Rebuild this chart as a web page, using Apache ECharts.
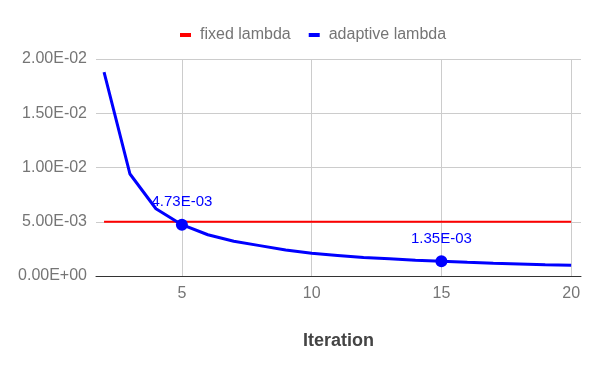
<!DOCTYPE html>
<html>
<head>
<meta charset="utf-8">
<script src="https://cdn.jsdelivr.net/npm/echarts@6/dist/echarts.min.js"></script>
<style>
  html, body { margin: 0; padding: 0; background: #fff; }
  #chart { width: 600px; height: 371px; }
</style>
</head>
<body>
<div id="chart"></div>
<script>
(function () {
  'use strict';

  var iterations = [2, 3, 4, 5, 6, 7, 8, 9, 10, 11, 12, 13, 14, 15, 16, 17, 18, 19, 20];
  var fixedLambda = [0.005, 0.005, 0.005, 0.005, 0.005, 0.005, 0.005, 0.005, 0.005, 0.005,
    0.005, 0.005, 0.005, 0.005, 0.005, 0.005, 0.005, 0.005, 0.005];
  var adaptiveLambda = [0.0188, 0.0094, 0.0062, 0.00473, 0.0038, 0.0032, 0.0028, 0.0024, 0.0021,
    0.0019, 0.0017, 0.0016, 0.00145, 0.00135, 0.00126, 0.00118, 0.00111, 0.00104, 0.00098];
  var labelledIterations = [5, 15];
  var xTicks = [5, 10, 15, 20];
  var yTicks = [0, 0.005, 0.01, 0.015, 0.02];

  var sci = function (v) {
    return Number(v).toExponential(2).toUpperCase().replace(/E([+-])(\d)$/, 'E$10$2');
  };

  var fixedData = iterations.map(function (x, i) {
    return [x, fixedLambda[i]];
  });
  var adaptiveData = iterations.map(function (x, i) {
    var item = { value: [x, adaptiveLambda[i]], symbol: 'none' };
    if (labelledIterations.indexOf(x) >= 0) {
      item.symbol = 'circle';
      item.symbolSize = 12;
      item.label = { show: true };
    }
    return item;
  });

  var myChart = echarts.init(document.getElementById('chart'));
  var option = {
    animation: false,
    textStyle: { fontFamily: 'Arial, "Liberation Sans", sans-serif' },
    legend: {
      top: 22,
      left: 175,
      icon: 'rect',
      itemWidth: 11,
      itemHeight: 4,
      itemGap: 18,
      textStyle: { color: '#757575', fontSize: 16, padding: [0, 0, 0, 4] },
      data: ['fixed lambda', 'adaptive lambda']
    },
    grid: { left: 96, right: 19, top: 59, bottom: 95 },
    xAxis: {
      type: 'value',
      min: 1.69,
      max: 20.38,
      name: 'Iteration',
      nameLocation: 'middle',
      nameGap: 56,
      nameTextStyle: { color: '#444', fontSize: 18, fontWeight: 'bold' },
      axisLine: { show: true, onZero: false, lineStyle: { color: '#333', width: 1 } },
      axisTick: { show: false, customValues: xTicks },
      axisLabel: { customValues: xTicks, color: '#757575', fontSize: 16, margin: 10 },
      splitLine: { show: true, lineStyle: { color: '#cccccc' } }
    },
    yAxis: {
      type: 'value',
      min: yTicks[0],
      max: yTicks[yTicks.length - 1],
      interval: 0.005,
      axisLine: { show: false },
      axisTick: { show: false },
      axisLabel: { color: '#757575', fontSize: 16, margin: 9, formatter: sci },
      splitLine: { lineStyle: { color: '#cccccc' } }
    },
    series: [{
      name: 'fixed lambda',
      type: 'line',
      data: fixedData,
      symbol: 'none',
      color: '#ff0000',
      lineStyle: { width: 2, color: '#ff0000' }
    }, {
      name: 'adaptive lambda',
      type: 'line',
      data: adaptiveData,
      showAllSymbol: true,
      color: '#0000ff',
      lineStyle: { width: 3, color: '#0000ff' },
      itemStyle: { color: '#0000ff' },
      label: {
        show: false,
        position: 'top',
        distance: 9,
        color: '#0000ff',
        fontSize: 15,
        formatter: function (p) { return sci(p.value[1]); }
      }
    }]
  };
  myChart.setOption(option);
})();
</script>
</body>
</html>
